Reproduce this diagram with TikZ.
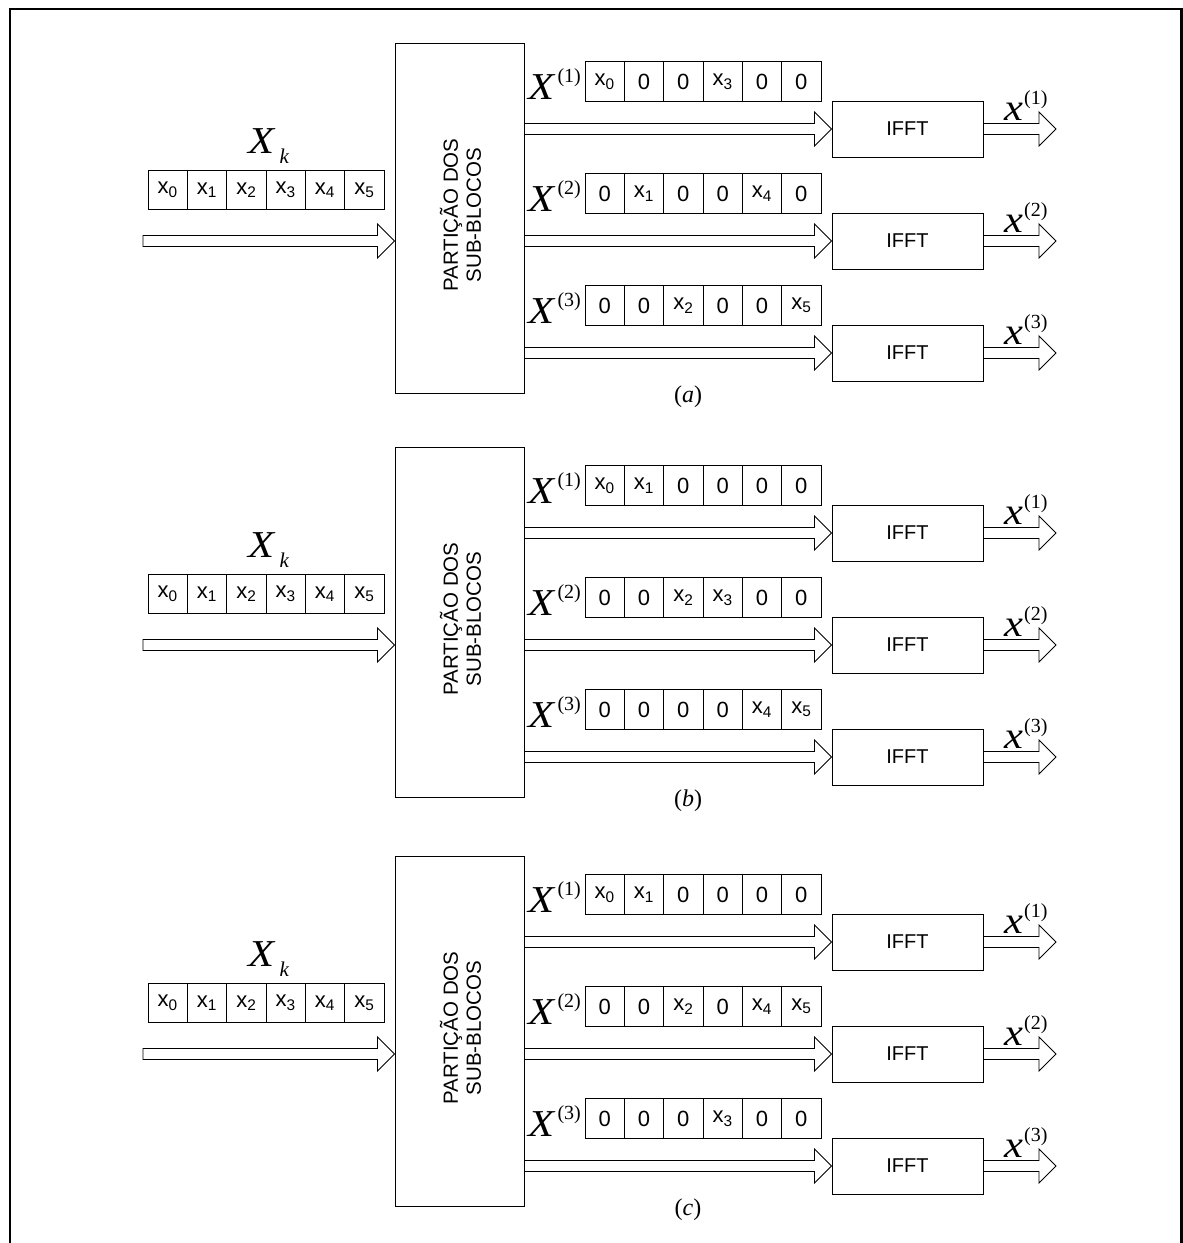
\documentclass[tikz,border=0pt]{standalone}
\usepackage{fontspec}
\setmainfont{Liberation Serif}
\setsansfont{Liberation Sans}
\usetikzlibrary{calc}
\tikzset{
  cell/.style={draw, line width=0.9pt, minimum width=39.33pt, minimum height=39.5pt, inner sep=0pt, font=\sffamily\fontsize{22}{24}\selectfont},
  blockbox/.style={draw, line width=1pt, inner sep=0pt, minimum width=129pt, minimum height=350pt},
  blocktext/.style={rotate=90, align=center, inner sep=0pt, font=\sffamily\fontsize{20.5}{23}\selectfont},
  ifftbox/.style={draw, line width=1pt, minimum width=151pt, minimum height=56pt, inner sep=0pt, font=\sffamily\fontsize{20}{22}\selectfont},
  harrowline/.style={draw, line width=0.9pt, line join=miter},
  biglabel/.style={inner sep=0pt, anchor=base west, font=\fontsize{38}{38}\selectfont},
  caption/.style={inner sep=0pt, font=\fontsize{24}{24}\selectfont},
  frame/.style={line width=2.5pt}
}
\newcommand\wideit[1]{\scalebox{1.12}[1]{\textit{#1}}}
% hollow block arrow from #1 to #2 (horizontal, at the height of #1)
\newcommand\harrow[2]{%
  \path[harrowline] let \p1=(#1), \p2=(#2) in
    (\x1,\y1+5.5pt) -- (\x2-17pt,\y1+5.5pt) -- (\x2-17pt,\y1+17pt) -- (\x2,\y1)
    -- (\x2-17pt,\y1-17pt) -- (\x2-17pt,\y1-5.5pt) -- (\x1,\y1-5.5pt) -- cycle;}
% one sub-block vector with its label, IFFT box and arrows
\newcommand\subvec[3]{%
  \foreach \t [count=\i] in {#3}
    \node[cell] (#1v#2c\i) at ({585+39.33*(\i-1)+19.67},{81.5+112*(#2-1)}) {\t};
  \node[biglabel] (#1X#2) at (528,{99+112*(#2-1)})
    {\wideit{X}\hspace{2pt}\raisebox{17pt}{\fontsize{20}{20}\selectfont(#2)}};
  \node[ifftbox] (#1ifft#2) at (907.5,{129+112*(#2-1)}) {IFFT};
  \harrow{#1blk.east |- #1ifft#2.west}{#1ifft#2.west}
  \coordinate (#1out#2) at (1056,{129+112*(#2-1)});
  \harrow{#1ifft#2.east}{#1out#2}
  \node[biglabel] (#1x#2) at (1004,{120+112*(#2-1)})
    {\wideit{x}\hspace{1pt}\raisebox{16pt}{\fontsize{20}{20}\selectfont(#2)}};
}
\newcommand\panel[6]{%
  \begin{scope}[yshift=-#2pt]
    \node[blockbox] (#1blk) at (459.5,218) {};
    \node[blocktext] (#1blktxt) at ([xshift=1pt,yshift=3pt]#1blk.center) {PARTIÇÃO DOS\\SUB-BLOCOS};
    \foreach \t [count=\i] in {x\textsubscript{0},x\textsubscript{1},x\textsubscript{2},x\textsubscript{3},x\textsubscript{4},x\textsubscript{5}}
      \node[cell] (#1in\i) at ({148+39.33*(\i-1)+19.67},190) {\t};
    \node[biglabel] (#1Xk) at (248,153)
      {\wideit{X}\hspace{4pt}\raisebox{-10pt}{\fontsize{21}{21}\selectfont\textit{k}}};
    \coordinate (#1src) at (143,241);
    \harrow{#1src}{#1src -| #1blk.west}
    \subvec{#1}{1}{#3}
    \subvec{#1}{2}{#4}
    \subvec{#1}{3}{#5}
    \node[caption] (#1cap) at (688,397) {(\textit{#6})};
  \end{scope}}
\begin{document}
\begin{tikzpicture}[x=1pt,y=-1pt]
  \useasboundingbox (0,0) rectangle (1183,1243);
  \fill[white] (0,0) rectangle (1183,1243);
  \draw[frame] (10,1250) -- (10,9) -- (1181.5,9) -- (1181.5,1250);
  \panel{a}{0}
    {x\textsubscript{0},0,0,x\textsubscript{3},0,0}
    {0,x\textsubscript{1},0,0,x\textsubscript{4},0}
    {0,0,x\textsubscript{2},0,0,x\textsubscript{5}}{a}
  \panel{b}{404}
    {x\textsubscript{0},x\textsubscript{1},0,0,0,0}
    {0,0,x\textsubscript{2},x\textsubscript{3},0,0}
    {0,0,0,0,x\textsubscript{4},x\textsubscript{5}}{b}
  \panel{c}{813}
    {x\textsubscript{0},x\textsubscript{1},0,0,0,0}
    {0,0,x\textsubscript{2},0,x\textsubscript{4},x\textsubscript{5}}
    {0,0,0,x\textsubscript{3},0,0}{c}
\end{tikzpicture}
\end{document}
